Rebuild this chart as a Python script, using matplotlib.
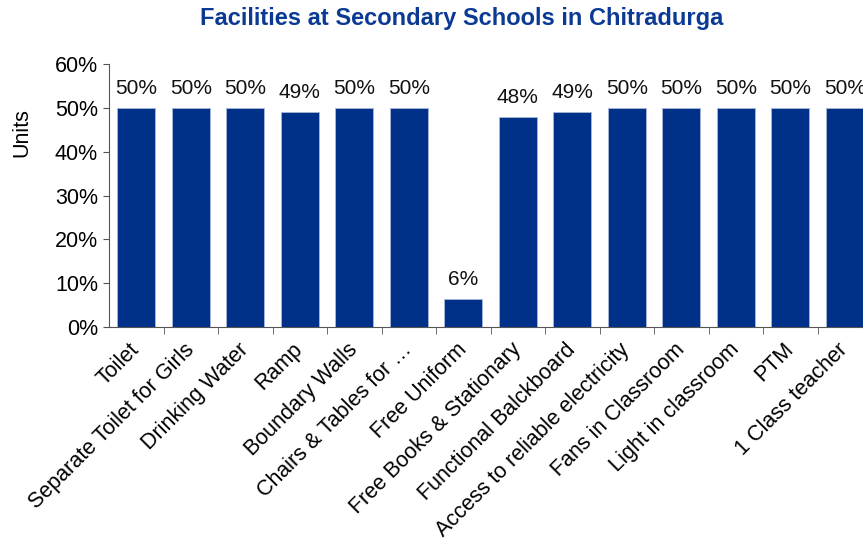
import numpy as np
import matplotlib
matplotlib.use("Agg")
import matplotlib.pyplot as plt
from matplotlib.ticker import PercentFormatter, FixedLocator

# facilities and the share of schools (%)
facilities = ["Toilet", "Separate Toilet for Girls", "Drinking Water", "Ramp",
              "Boundary Walls", "Chairs & Tables for \u2026", "Free Uniform",
              "Free Books & Stationary", "Functional Balckboard",
              "Access to reliable electricity", "Fans in Classroom",
              "Light in classroom", "PTM", "1 Class teacher"]
shares = [50, 50, 50, 49, 50, 50, 6.4, 48, 49, 50, 50, 50, 50, 50]

plt.rcParams["font.family"] = ["Liberation Sans", "DejaVu Sans"]

fig = plt.figure(figsize=(8.63, 5.4), dpi=100)
ax = fig.add_axes([109 / 863, 1 - 327 / 540, 763 / 863, 263 / 540])

x = np.arange(len(facilities))
bars = ax.bar(x, shares, width=0.7, color="#003087", edgecolor="#a8b8d8", linewidth=0.6)

# value labels on top of the bars
for b, v in zip(bars, shares):
    ax.text(b.get_x() + b.get_width() / 2, v + 2.3, "%d%%" % round(v),
            ha="center", va="bottom", fontsize=15, color="#111111")

ax.set_xlim(-0.5, len(facilities) - 0.5)
ax.set_ylim(0, 60)
ax.set_yticks(np.arange(0, 61, 10))
ax.yaxis.set_major_formatter(PercentFormatter(decimals=0))
ax.tick_params(axis="y", labelsize=15.5, length=4, direction="out", color="#555555", pad=4)

ax.set_xticks(x)
ax.set_xticklabels(facilities, rotation=45, ha="right", va="center",
                   rotation_mode="anchor", fontsize=15.5)
ax.tick_params(axis="x", which="major", length=0, pad=14)
ax.xaxis.set_minor_locator(FixedLocator(np.arange(0.5, len(facilities), 1.0)))
ax.tick_params(axis="x", which="minor", length=5, color="#555555")

ax.spines["top"].set_visible(False)
ax.spines["right"].set_visible(False)
ax.spines["left"].set_color("#555555")
ax.spines["bottom"].set_color("#555555")

ax.set_ylabel("Units", fontsize=15.5)
ax.yaxis.set_label_coords(-0.1, 0.74)

fig.text(462 / 863, 1 - 18 / 540, "Facilities at Secondary Schools in Chitradurga",
         ha="center", va="center", fontsize=17, fontweight="bold", color="#0b3a94")

fig.savefig("out.png", dpi=100)
